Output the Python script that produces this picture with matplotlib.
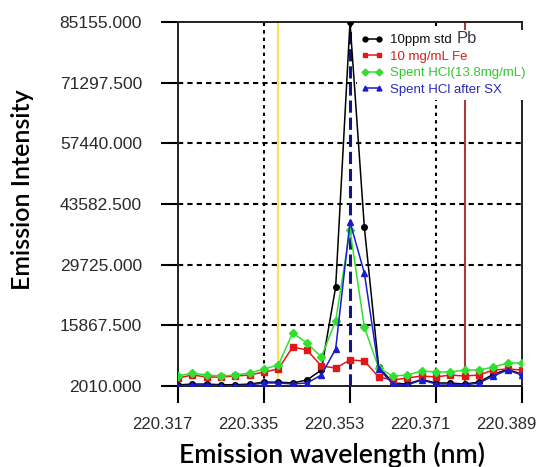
import matplotlib.pyplot as plt
from matplotlib.lines import Line2D
from matplotlib.transforms import ScaledTranslation

# wavelength points (nm)
wavelength = [220.317, 220.320, 220.323, 220.326, 220.329, 220.332, 220.335,
              220.338, 220.341, 220.344, 220.347, 220.350, 220.353, 220.356,
              220.359, 220.362, 220.365, 220.368, 220.371, 220.374, 220.377,
              220.380, 220.383, 220.386, 220.389]

# emission intensities
pb_std = [2250, 2450, 2450, 2300, 2300, 2450, 2900, 2900, 2700, 3380, 5660,
          24620, 85155, 38330, 6350, 2700, 2450, 3500, 2700, 2700, 2450, 2900,
          4700, 5800, 4700]
fe_10 = [3840, 4520, 4070, 4070, 4290, 4520, 5210, 5890, 10920, 10230, 6580,
         6120, 7950, 7720, 4070, 3380, 3840, 4290, 4070, 4520, 4290, 4520,
         5660, 5890, 5660]
spent_hcl = [4290, 4980, 4520, 4290, 4520, 4980, 5890, 6810, 14120, 11830,
             8630, 16900, 37640, 15490, 6120, 4290, 4520, 5440, 5210, 5210,
             5660, 5660, 6350, 7260, 7260]
spent_sx = [2050, 2240, 2240, 2100, 2100, 2240, 2700, 2700, 2470, 2700, 4520,
            10460, 39470, 27820, 5890, 2470, 2240, 3380, 2470, 2470, 2240,
            2700, 4290, 5660, 4520]

series_labels = ['10ppm std', '10 mg/mL Fe', 'Spent HCl(13.8mg/mL)', 'Spent HCl after SX']
series_colors = ['#000000', '#e01818', '#30e030', '#1a1ad0']
text_colors = ['#111111', '#d02020', '#30c830', '#2a2ab8']
series_markers = ['o', 's', 'D', '^']

yticks = [2010.0, 15867.5, 29725.0, 43582.5, 57440.0, 71297.5, 85155.0]
xticks = [220.317, 220.335, 220.353, 220.371, 220.389]

pb_line = 220.353
yellow_line = 220.3379
red_line = 220.3771

fig = plt.figure(figsize=(5.42, 4.67), dpi=100)
ax = fig.add_axes([178 / 542, 1 - 386 / 467, 344 / 542, 364 / 467])

ax.set_xlim(xticks[0], xticks[-1])
ax.set_ylim(yticks[0], yticks[-1])

# grid
for yv in yticks[1:-1]:
    ax.axhline(yv, color='black', lw=1.5, ls=(0, (2.5, 2)), zorder=1)
for xv in [220.335, 220.371]:
    ax.axvline(xv, color='black', lw=1.5, ls=(0, (1.6, 2)), zorder=1)

# marker lines
ax.axvline(yellow_line, color='#f7e35a', lw=1.5, zorder=1)
ax.axvline(red_line, color='#a83a3a', lw=1.5, zorder=1)
ax.axvline(pb_line, color='#14148a', lw=2.2, ls=(0, (4, 1.6)), zorder=2)

all_data = [pb_std, fe_10, spent_hcl, spent_sx]
sizes = [4, 4.5, 4, 5]
for vals, col, mk, ms in zip(all_data, series_colors, series_markers, sizes):
    ax.plot(wavelength, vals, color=col, marker=mk, ms=ms, lw=1.1, zorder=3)

ax.set_xticks(xticks)
ax.set_xticklabels(['%.3f' % v for v in xticks])
ax.set_yticks(yticks)
ax.set_yticklabels(['%.3f' % v for v in yticks])
ax.tick_params(axis='both', direction='out', length=12, width=1.5, color='black')
ax.tick_params(axis='y', pad=14, labelsize=12.5, labelcolor='#2a2a2a')
ax.tick_params(axis='x', pad=10, labelsize=12, labelcolor='#2a2a2a')
shift = ScaledTranslation(-0.16, 0, fig.dpi_scale_trans)
for lab in ax.get_xticklabels():
    lab.set_family('Liberation Sans')
    lab.set_transform(lab.get_transform() + shift)
for lab in ax.get_yticklabels():
    lab.set_family('Liberation Sans')
for sp in ax.spines.values():
    sp.set_linewidth(1.4)
    sp.set_color('#222222')

handles = [Line2D([0], [0], color=c, marker=m, ms=3.5, lw=1.1)
           for c, m in zip(series_colors, series_markers)]
leg = ax.legend(handles, series_labels, loc='upper left',
                bbox_to_anchor=(0.52, 0.978), frameon=True, fancybox=False,
                edgecolor='none', facecolor='white', framealpha=1,
                prop={'family': 'Liberation Sans', 'size': 9.5},
                handlelength=1.7, handletextpad=0.5, labelspacing=0.33,
                borderpad=0.3, borderaxespad=0, numpoints=2)
leg.set_zorder(5)
for t, c in zip(leg.get_texts(), text_colors):
    t.set_color(c)

fig.text(457 / 542, 1 - 43 / 467, 'Pb', fontsize=12, color='#3a3a4a',
         family='Liberation Sans', va='baseline', zorder=6)

fig.text(332 / 542, 1 - 455 / 467, 'Emission wavelength (nm)', ha='center',
         va='center', fontsize=19.2, family='Lato', weight='semibold')
fig.text(23 / 542, 1 - 190 / 467, 'Emission Intensity', ha='center',
         va='center', rotation=90, fontsize=18, family='Lato', weight='semibold')

fig.savefig('out.png', dpi=100)
